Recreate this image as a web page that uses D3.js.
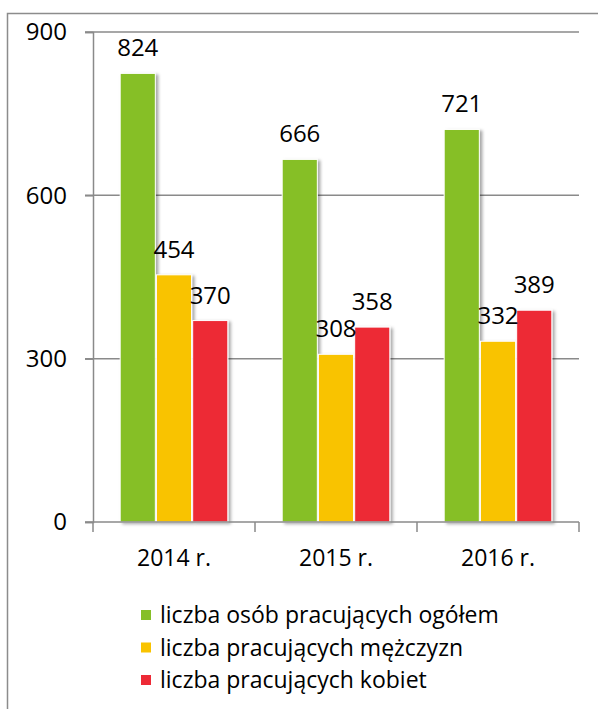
<!DOCTYPE html>
<html>
<head>
<meta charset="utf-8">
<script src="https://cdn.jsdelivr.net/npm/d3@7"></script>
<style>
  body { margin: 0; background: white; }
  text { font-family: "Open Sans", sans-serif; fill: #000; }
</style>
</head>
<body>
<div id="chart"></div>
<script>
// data
var years = ['2014 r.', '2015 r.', '2016 r.'];
var series = ['liczba osób pracujących ogółem', 'liczba pracujących mężczyzn', 'liczba pracujących kobiet'];
var total = [824, 666, 721];
var men = [454, 308, 332];
var women = [370, 358, 389];
var yTicks = [0, 300, 600, 900];
var colors = ['#86bf28', '#f9c300', '#ed2a36'];

var values = [total, men, women];

var w = 598;
var h = 709;
var m = {top: 32, left: 93, right: 19, bottom: 187};
var fs = '24px';

var svg = d3.select('#chart')
  .append('svg')
  .attr('width', w)
  .attr('height', h);

// shadow for bars
var f = svg.append('defs').append('filter')
  .attr('id', 'shadow')
  .attr('x', '-20%').attr('y', '-20%')
  .attr('width', '150%').attr('height', '150%');
f.append('feDropShadow')
  .attr('dx', 2.5).attr('dy', 1.5)
  .attr('stdDeviation', 1.6)
  .attr('flood-color', '#000')
  .attr('flood-opacity', 0.35);

// outer frame (cut off at right and bottom)
svg.append('path')
  .attr('d', 'M7.5,' + (h + 2) + 'V13.5H' + (w + 2))
  .attr('fill', 'none')
  .attr('stroke', '#8c8c8c')
  .attr('stroke-width', 1.5);

var x0 = d3.scaleBand()
  .domain(years)
  .range([m.left, w - m.right]);

var x1 = d3.scaleBand()
  .domain(d3.range(series.length))
  .range([0, x0.bandwidth()])
  .paddingOuter(0.75)
  .paddingInner(0.03);

var y = d3.scaleLinear()
  .domain([0, 900])
  .range([h - m.bottom, m.top]);

var axisCol = '#8a8a8a';

// gridlines
svg.append('g')
  .selectAll('line')
  .data(yTicks.slice(1))
  .join('line')
  .attr('x1', m.left - 8)
  .attr('x2', w - m.right)
  .attr('y1', d => y(d))
  .attr('y2', d => y(d))
  .attr('stroke', axisCol)
  .attr('stroke-width', 1.5);

// y axis
var yAxis = svg.append('g')
  .attr('transform', 'translate(' + m.left + ',0)')
  .call(d3.axisLeft(y).tickValues(yTicks).tickSize(8).tickPadding(18));
yAxis.select('.domain').attr('stroke', axisCol).attr('stroke-width', 1.5);
yAxis.selectAll('.tick line').attr('stroke', axisCol).attr('stroke-width', 1.5);
yAxis.selectAll('text')
  .style('font-size', fs)
  .style('font-family', '"Open Sans", sans-serif')
  .attr('fill', '#000');

// bars
var groups = svg.append('g')
  .selectAll('g')
  .data(years)
  .join('g')
  .attr('transform', d => 'translate(' + x0(d) + ',0)');

groups.selectAll('rect')
  .data((d, i) => values.map((v, s) => ({s: s, v: v[i]})))
  .join('rect')
  .attr('x', d => x1(d.s))
  .attr('y', d => y(d.v))
  .attr('width', x1.bandwidth())
  .attr('height', d => y(0) - y(d.v))
  .attr('fill', d => colors[d.s])
  .attr('stroke', 'white')
  .attr('stroke-width', 1)
  .attr('filter', 'url(#shadow)');

groups.selectAll('text')
  .data((d, i) => values.map((v, s) => ({s: s, v: v[i]})))
  .join('text')
  .attr('x', d => x1(d.s) + x1.bandwidth() / 2)
  .attr('y', d => y(d.v) - 17)
  .attr('text-anchor', 'middle')
  .style('font-size', fs)
  .text(d => d.v);

// x axis
var xAxis = svg.append('g')
  .attr('transform', 'translate(0,' + y(0) + ')')
  .call(d3.axisBottom(x0).tickSize(0).tickPadding(28));
xAxis.select('.domain').remove();
xAxis.selectAll('text')
  .style('font-size', '23px')
  .style('font-family', '"Open Sans", sans-serif')
  .attr('fill', '#000');

svg.append('line')
  .attr('x1', m.left - 8)
  .attr('x2', w - m.right)
  .attr('y1', y(0))
  .attr('y2', y(0))
  .attr('stroke', axisCol)
  .attr('stroke-width', 1.5);

var edges = years.map(d => x0(d)).concat([w - m.right]);
svg.append('g')
  .selectAll('line')
  .data(edges)
  .join('line')
  .attr('x1', d => d)
  .attr('x2', d => d)
  .attr('y1', y(0))
  .attr('y2', y(0) + 10)
  .attr('stroke', axisCol)
  .attr('stroke-width', 1.5);

// legend
var legend = svg.append('g')
  .attr('transform', 'translate(141,615)');

var items = legend.selectAll('g')
  .data(series)
  .join('g')
  .attr('transform', (d, i) => 'translate(0,' + (i * 32.5) + ')');

items.append('rect')
  .attr('x', 0)
  .attr('y', -5)
  .attr('width', 10)
  .attr('height', 10)
  .attr('fill', (d, i) => colors[i]);

items.append('text')
  .attr('x', 19)
  .attr('y', 0)
  .attr('dy', '0.35em')
  .style('font-size', '23px')
  .text(d => d);
</script>
</body>
</html>
